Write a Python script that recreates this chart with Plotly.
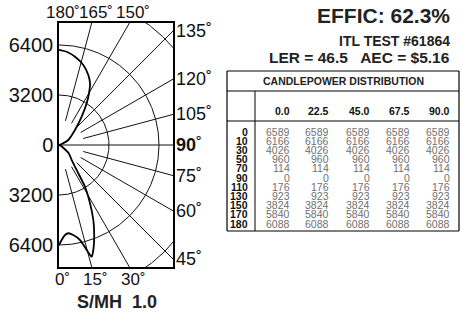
import numpy as np
import plotly.graph_objects as go

# ---------------- data ----------------
# candlepower curve (angle from nadir, candela)
curve_angles = [0, 1.6, 3.8, 6.0, 9.0, 12.5, 14.8, 16.3, 18.1, 21.0, 24.6, 28.0, 31.9,
                34.3, 40.3, 50.0, 70, 90, 110, 118.3, 133.2, 141.3, 146.4, 149.9, 153.3,
                157.3, 163.1, 169.7, 175.3, 179.4, 180]
curve_cd = [6400, 6080, 5770, 5680, 5830, 6230, 6950, 7450, 7070, 6290, 5280, 4230, 3150,
            2190, 1260, 800, 114, 0, 176, 675, 1400, 2320, 3200, 3826, 4420,
            4860, 5350, 5740, 5990, 6080, 6088]

grid_radii = [3200, 6400, 9600]
radial_angles = [15, 30, 45, 60, 75, 90, 105, 120, 135, 150, 165]
left_tick_vals = [6400, 3200, 0, -3200, -6400]
left_tick_text = ["6400", "3200", "0", "3200", "6400"]
right_labels = [135, 120, 105, 90, 75, 60, 45]
top_labels = [180, 165, 150]
bottom_labels = [0, 15, 30]

title_effic = "EFFIC: 62.3%"
title_test = "ITL TEST #61864"
title_ler = "LER = 46.5   AEC = $5.16"
smh_label = "S/MH  1.0"

table_title = "CANDLEPOWER DISTRIBUTION"
table_planes = ["0.0", "22.5", "45.0", "67.5", "90.0"]
table_vert = ["0", "10", "30", "50", "70", "90", "110", "130", "150", "170", "180"]
cp_plane_00 = [6589, 6166, 4026, 960, 114, 0, 176, 923, 3824, 5840, 6088]
cp_plane_225 = [6589, 6166, 4026, 960, 114, 0, 176, 923, 3824, 5840, 6088]
cp_plane_45 = [6589, 6166, 4026, 960, 114, 0, 176, 923, 3824, 5840, 6088]
cp_plane_675 = [6589, 6166, 4026, 960, 114, 0, 176, 923, 3824, 5840, 6088]
cp_plane_90 = [6589, 6166, 4026, 960, 114, 0, 176, 923, 3824, 5840, 6088]
cp_columns = [cp_plane_00, cp_plane_225, cp_plane_45, cp_plane_675, cp_plane_90]

# ---------------- geometry ----------------
W, H = 462, 318
PL, PR, PT, PB = 59, 173, 23, 267
SCALE = 64.0
XMAX = (PR - PL) * SCALE
YMAX = (PB - PT) / 2 * SCALE
FONT = "Liberation Sans, Arial, sans-serif"
DEG = "˚"


def px2paper(x, y):
    return x / W, 1 - y / H


def data2px(x, y):
    return PL + x / SCALE, (PT + PB) / 2 - y / SCALE


def polar_xy(theta_deg, r):
    t = np.radians(np.asarray(theta_deg, dtype=float))
    r = np.asarray(r, dtype=float)
    return r * np.sin(t), -r * np.cos(t)


fig = go.Figure()
gridline = dict(color="#111", width=1)

# circles
for r in grid_radii:
    th = np.linspace(0, 180, 361)
    gx, gy = polar_xy(th, np.full_like(th, r))
    fig.add_trace(go.Scatter(x=gx, y=gy, mode="lines", line=gridline,
                             hoverinfo="skip", showlegend=False))
# radial lines
for a in radial_angles:
    r0 = 0 if a == 90 else 1600
    lx, ly = polar_xy([a, a], [r0, 20000])
    fig.add_trace(go.Scatter(x=lx, y=ly, mode="lines", line=gridline,
                             hoverinfo="skip", showlegend=False))
# curve
cx, cy = polar_xy(curve_angles, curve_cd)
fig.add_trace(go.Scatter(x=cx, y=cy, mode="lines",
                         line=dict(color="#000", width=1.8, shape="spline", smoothing=0.6),
                         hoverinfo="skip", showlegend=False))

ann = []
# right labels
for a in right_labels:
    t = np.radians(a)
    y = -XMAX * np.cos(t) / np.sin(t)
    px, py = data2px(XMAX, y)
    ax_, ay_ = px2paper(px + 1, py)
    txt = f"<b>{a}</b>{DEG}" if a == 90 else f"{a}{DEG}"
    ann.append(dict(x=ax_, y=ay_, xref="paper", yref="paper", text=txt, showarrow=False,
                    xanchor="left", yanchor="middle", font=dict(size=18, color="#111", family=FONT)))
# top labels
for a in top_labels:
    t = np.radians(a)
    x = -YMAX * np.tan(t)
    px, py = data2px(x, YMAX)
    ax_, ay_ = px2paper(px + 4, py + 1)
    ann.append(dict(x=ax_, y=ay_, xref="paper", yref="paper", text=f"{a}{DEG}", showarrow=False,
                    xanchor="center", yanchor="bottom", font=dict(size=17, color="#111", family=FONT)))
# bottom labels
for a in bottom_labels:
    t = np.radians(a)
    x = YMAX * np.tan(t)
    px, py = data2px(x, -YMAX)
    ax_, ay_ = px2paper(px + 4, py + 1)
    ann.append(dict(x=ax_, y=ay_, xref="paper", yref="paper", text=f"{a}{DEG}", showarrow=False,
                    xanchor="center", yanchor="top", font=dict(size=17, color="#111", family=FONT)))

# S/MH
sx, sy = px2paper(117, 302)
ann.append(dict(x=sx, y=sy, xref="paper", yref="paper", text=f"<b>{smh_label}</b>", showarrow=False,
                xanchor="center", yanchor="middle", font=dict(size=18, color="#222", family=FONT)))

# header texts
for txt, size, ypx in [(title_effic, 21, 16), (title_test, 14, 41), (title_ler, 15.5, 58)]:
    hx, hy = px2paper(452, ypx)
    ann.append(dict(x=hx, y=hy, xref="paper", yref="paper", text=f"<b>{txt}</b>", showarrow=False,
                    xanchor="right", yanchor="middle", font=dict(size=size, color="#222", family=FONT)))

# ---------------- table ----------------
TL, TR, TT = 227, 459, 71
T_TITLE_B, T_HEAD_B, TB = 91, 121, 231
T_SEP = 255
ROW0, ROWSTEP = 131.5, 9.2
col_right = [292, 331, 372, 412, 452]

shapes = []


def seg(x0, y0, x1, y1, w=1):
    p0 = px2paper(x0, y0)
    p1 = px2paper(x1, y1)
    shapes.append(dict(type="line", xref="paper", yref="paper", x0=p0[0], y0=p0[1],
                       x1=p1[0], y1=p1[1], line=dict(color="#000", width=w)))


seg(TL, TT, TR, TT, 1.2)
seg(TL, TB, TR, TB, 1.2)
seg(TL, TT, TL, TB, 1.2)
seg(TR, TT, TR, TB, 1.2)
seg(TL, T_TITLE_B, TR, T_TITLE_B)
seg(TL, T_HEAD_B, TR, T_HEAD_B)
seg(T_SEP, T_TITLE_B, T_SEP, TB)

tx, ty = px2paper((TL + TR) / 2, (TT + T_TITLE_B) / 2)
ann.append(dict(x=tx, y=ty, xref="paper", yref="paper", text=f"<b>{table_title}</b>", showarrow=False,
                xanchor="center", yanchor="middle", font=dict(size=10.5, color="#222", family=FONT)))
for j, lab in enumerate(table_planes):
    hx, hy = px2paper(col_right[j], 111)
    ann.append(dict(x=hx, y=hy, xref="paper", yref="paper", text=f"<b>{lab}</b>", showarrow=False,
                    xanchor="right", yanchor="middle", font=dict(size=10.5, color="#111", family=FONT)))
for i, lab in enumerate(table_vert):
    ypx = ROW0 + i * ROWSTEP
    rx, ry = px2paper(250, ypx)
    ann.append(dict(x=rx, y=ry, xref="paper", yref="paper", text=f"<b>{lab}</b>", showarrow=False,
                    xanchor="right", yanchor="middle", font=dict(size=10.5, color="#111", family=FONT)))
    for j, col in enumerate(cp_columns):
        vx, vy = px2paper(col_right[j], ypx)
        ann.append(dict(x=vx, y=vy, xref="paper", yref="paper", text=str(col[i]), showarrow=False,
                        xanchor="right", yanchor="middle",
                        font=dict(size=10.5, color="#707070", family=FONT)))

fig.update_layout(
    width=W, height=H, margin=dict(l=0, r=0, t=0, b=0),
    paper_bgcolor="white", plot_bgcolor="white",
    xaxis=dict(domain=[PL / W, PR / W], range=[0, XMAX], showgrid=False, zeroline=False,
               showticklabels=False, ticks="", showline=True, mirror=True,
               linecolor="#000", linewidth=1.5, fixedrange=True),
    yaxis=dict(domain=[1 - PB / H, 1 - PT / H], range=[-YMAX, YMAX], showgrid=False,
               zeroline=False, tickvals=left_tick_vals, ticktext=left_tick_text, ticks="",
               tickfont=dict(size=20, color="#111", family=FONT), showline=True, mirror=True,
               linecolor="#000", linewidth=1.5, fixedrange=True, automargin=False),
    annotations=ann, shapes=shapes, showlegend=False,
)

fig.write_html("out.html", config={"displayModeBar": False},
               post_script="document.body.style.margin='0';document.body.style.overflow='hidden';")
